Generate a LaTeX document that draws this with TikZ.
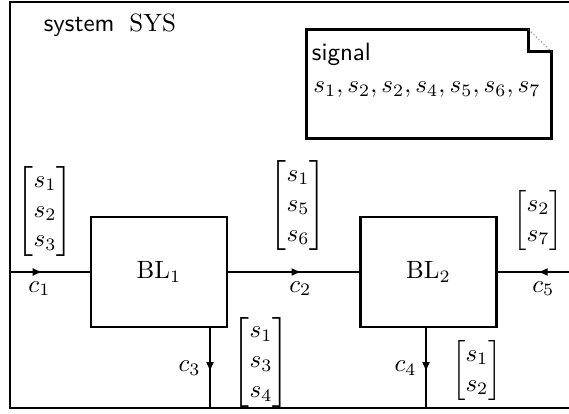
\documentclass[tikz,border=0pt]{standalone}
\usepackage{amsmath}
\usetikzlibrary{arrows.meta,positioning,decorations.markings}

\begin{document}
\begin{tikzpicture}[
    x=0.4pt, y=-0.4pt,
    block/.style={
      draw,
      line width=1pt,
      minimum width=54.4pt,
      minimum height=44pt,
      inner sep=0pt
    },
    wire/.style={line width=0.8pt},
    midarrow/.style={
      postaction={decorate},
      decoration={markings,
        mark=at position #1 with {\arrow{Latex[length=4pt,width=3.2pt]}}}
    },
    notebox/.style={
      minimum width=97.6pt,
      minimum height=43.2pt,
      inner sep=0pt
    }
  ]
  \useasboundingbox (0,0) rectangle (569,414);

  % frame of the system
  \draw[line width=1pt] (569,2) -- (10,2) -- (10,408) -- (569,408);
  \node[anchor=west, font=\sffamily] (sysname) at (35,26) {system\hspace{6pt}$\mathrm{SYS}$};

  % signal note
  \node[notebox] (note) at (429,84) {};
  \draw[line width=1pt] (note.north west) -- ([xshift=-9.2pt]note.north east)
    -- ([xshift=-9.2pt,yshift=-8.8pt]note.north east)
    -- ([yshift=-8.8pt]note.north east) -- (note.south east)
    -- (note.south west) -- cycle;
  \draw[thin, densely dotted, gray] ([xshift=-9.2pt]note.north east) -- ([yshift=-8.8pt]note.north east);
  \node[anchor=north west, inner sep=0pt, font=\sffamily] (sigttl)
    at ([xshift=2pt,yshift=-5.2pt]note.north west) {signal};
  \node (siglist) at (427,90) {$s_1, s_2, s_2, s_4, s_5, s_6, s_7$};

  % blocks
  \node[block] (bl1) at (159,272) {$\mathrm{BL}_1$};
  \node[block] (bl2) at (428.5,272) {$\mathrm{BL}_2$};

  \coordinate (lin) at (10,272);
  \coordinate (rin) at (569,272);
  \coordinate (b3) at (210,408);
  \coordinate (b4) at (426,408);

  % channels
  \draw[wire, midarrow=0.41] (lin) -- (bl1.west) node[pos=0.37, below] {$c_1$};
  \draw[wire, midarrow=0.56] (bl1.east) -- (bl2.west) node[pos=0.55, below] {$c_2$};
  \draw[wire, midarrow=0.44] (rin) -- (bl2.east) node[pos=0.36, below] {$c_5$};
  \draw[wire, midarrow=0.55] (bl1.south -| b3) -- (b3) node[pos=0.5, left] {$c_3$};
  \draw[wire, midarrow=0.55] (bl2.south -| b4) -- (b4) node[pos=0.5, left] {$c_4$};

  % carried signals
  \node (sig1) at (45,211) {$\begin{bmatrix} s_1\\ s_2\\ s_3 \end{bmatrix}$};
  \node (sig2) at (298,205) {$\begin{bmatrix} s_1\\ s_5\\ s_6 \end{bmatrix}$};
  \node (sig5) at (538,220) {$\begin{bmatrix} s_2\\ s_7 \end{bmatrix}$};
  \node (sig3) at (261,362) {$\begin{bmatrix} s_1\\ s_3\\ s_4 \end{bmatrix}$};
  \node (sig4) at (477,370) {$\begin{bmatrix} s_1\\ s_2 \end{bmatrix}$};

\end{tikzpicture}
\end{document}
